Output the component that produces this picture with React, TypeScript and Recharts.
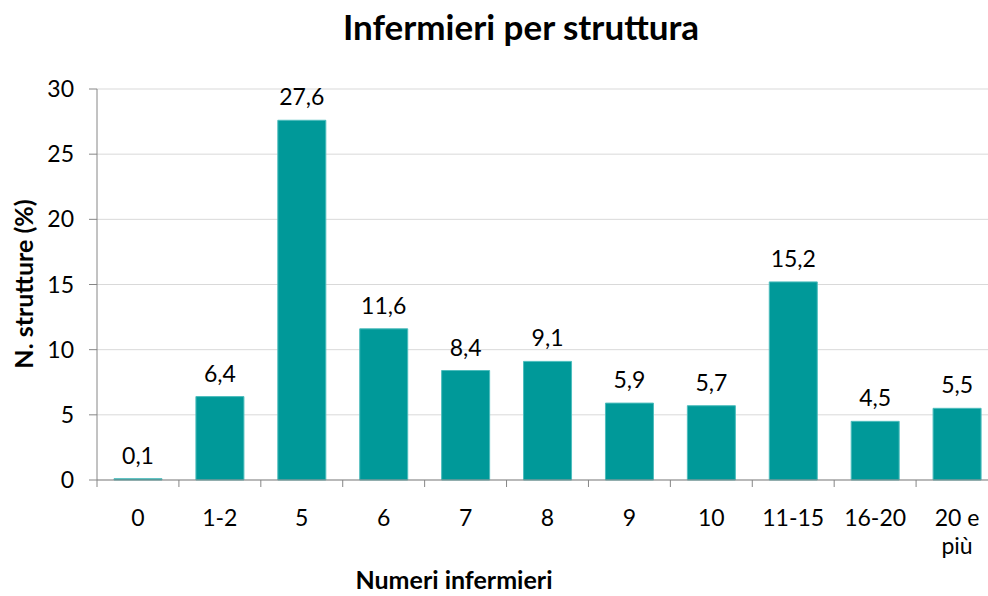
import React from 'react';
import { BarChart, Bar, XAxis, YAxis, CartesianGrid, LabelList } from 'recharts';

const categories = ['0', '1-2', '5', '6', '7', '8', '9', '10', '11-15', '16-20', '20 e più'];
const percentages = [0.1, 6.4, 27.6, 11.6, 8.4, 9.1, 5.9, 5.7, 15.2, 4.5, 5.5];
const yTicks = [0, 5, 10, 15, 20, 25, 30];

const FONT = 'Lato, "Liberation Sans", sans-serif';

const chartData = categories.map((name, i) => ({ name, value: percentages[i] }));

// Excel-style x tick: label (wrapped on a space when long) + marks at band edges
const CategoryTick = (props: any) => {
  const { x, y, payload, index } = props;
  const half = payload.offset || 41;
  const label: string = payload.value;
  const lines = label.length > 6 ? [label.slice(0, label.lastIndexOf(' ')), label.slice(label.lastIndexOf(' ') + 1)] : [label];
  return (
    <g>
      <line x1={x - half} x2={x - half} y1={y - 8} y2={y - 1} stroke="#868686" />
      {index === categories.length - 1 && (
        <line x1={x + half} x2={x + half} y1={y - 8} y2={y - 1} stroke="#868686" />
      )}
      <text x={x} y={y + 38} textAnchor="middle" fontSize={23} fontFamily={FONT} fill="#000">
        {lines.map((l, i) => (
          <tspan key={i} x={x} dy={i === 0 ? 0 : 28}>{l}</tspan>
        ))}
      </text>
    </g>
  );
};

export default function App() {
  return (
    <div style={{ position: 'absolute', left: 0, top: 0, width: 988, height: 596, overflow: 'hidden', background: '#fff' }}>
      <div
        style={{
          position: 'absolute', left: 0, top: 5, width: 1042, textAlign: 'center',
          fontFamily: FONT, fontWeight: 'bold', fontSize: 35, color: '#000'
        }}
      >
        Infermieri per struttura
      </div>
      <BarChart
        width={1000}
        height={596}
        data={chartData}
        margin={{ top: 89, right: 2, bottom: 0, left: 0 }}
        style={{ position: 'absolute', left: 0, top: 0 }}
      >
        <CartesianGrid vertical={false} stroke="#d9d9d9" />
        <XAxis
          dataKey="name"
          height={116}
          interval={0}
          tickLine={false}
          axisLine={{ stroke: '#868686' }}
          tick={<CategoryTick />}
          label={() => (
            <text x={454} y={589} textAnchor="middle" fontSize={25} fontWeight="bold" fontFamily={FONT} fill="#000">
              Numeri infermieri
            </text>
          )}
        />
        <YAxis
          width={97}
          domain={[0, 30]}
          ticks={yTicks}
          interval={0}
          tickSize={8}
          tickMargin={15}
          tickLine={{ stroke: '#868686' }}
          axisLine={{ stroke: '#868686' }}
          tick={{ fontSize: 23, fontFamily: FONT, fill: '#000' }}
          label={() => (
            <text
              x={23}
              y={284}
              transform="rotate(-90 23 284)"
              dominantBaseline="central"
              textAnchor="middle"
              fontSize={25}
              fontWeight="bold"
              fontFamily={FONT}
              fill="#000"
            >
              N. strutture (%)
            </text>
          )}
        />
        <Bar dataKey="value" fill="#009999" stroke="#4dbdbd" strokeWidth={1} barSize={48} isAnimationActive={false}>
          <LabelList
            dataKey="value"
            position="top"
            offset={15}
            formatter={(v: any) => String(v).replace('.', ',')}
            style={{ fontSize: 23, fontFamily: FONT, fill: '#000' }}
          />
        </Bar>
      </BarChart>
    </div>
  );
}
